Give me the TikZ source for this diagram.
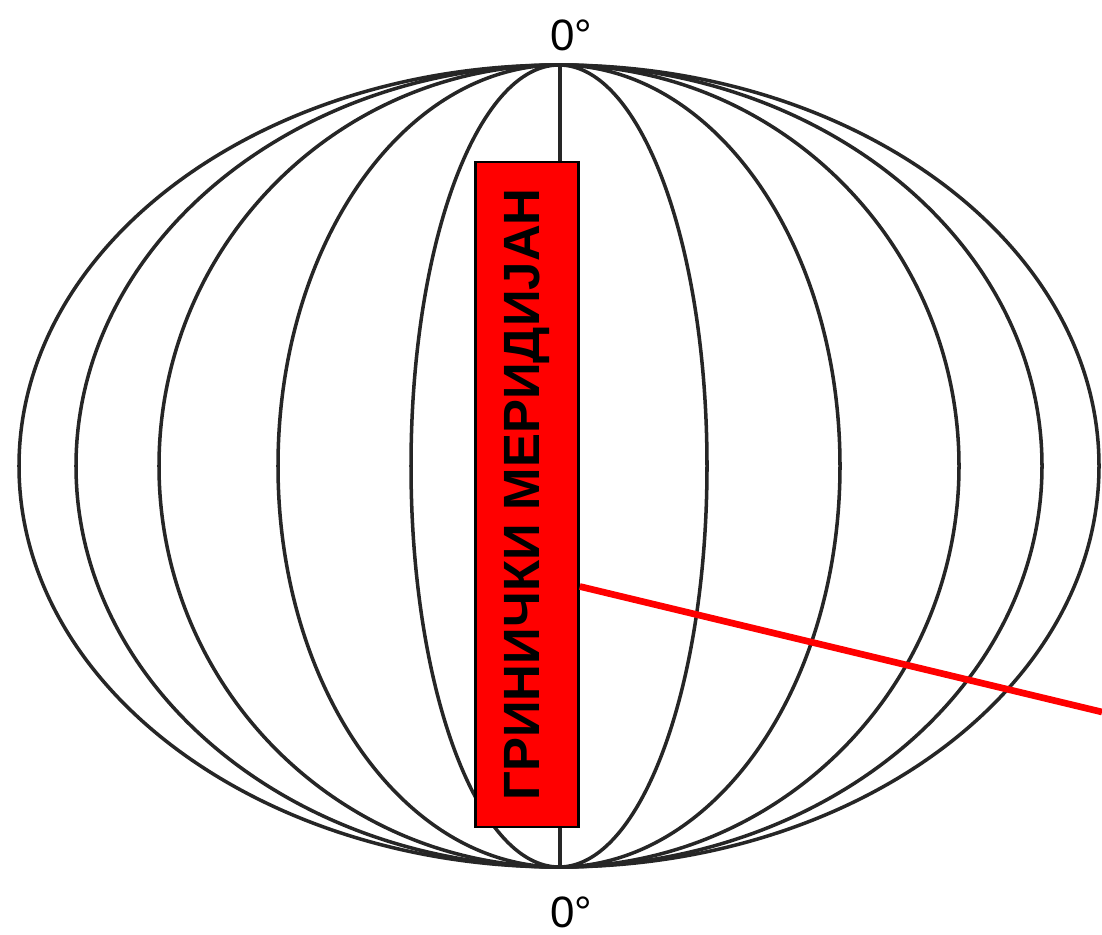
\documentclass[tikz,border=0pt]{standalone}
\usepackage{fontspec}
\setmainfont{Liberation Sans}
\usepackage{tikz}
\usetikzlibrary{positioning, calc}

\begin{document}
\begin{tikzpicture}[
        x=0.02cm, y=-0.02cm,
        meridian/.style = {draw=black!85, line width=2pt},
        label/.style = {rectangle, draw=black, line width=1.5pt, fill=red, text=black, minimum width=2.06cm, minimum height=13.3cm, inner sep=0pt, font=\fontsize{29}{33}\selectfont\bfseries},
        deg/.style = {inner sep=0pt, font=\fontsize{25}{29}\selectfont},
        pointer/.style = {draw=red, line width=3.8pt}
    ]

    \useasboundingbox (0,0) rectangle (1102,935);

    % --- MERIDIJANI ---
    \foreach \r in {148,281,400,483,540}
        \draw[meridian] (559,466) ellipse ({\r} and 401);
    \draw[meridian] (560,65) -- (560,867);

    % --- OZNAKE ---
    \node[deg] (topdeg) at (571,35) {0°};
    \node[deg] (botdeg) at (571,912) {0°};

    \node[label] (grinic) at (527,494.5) {\rotatebox{90}{ГРИНИЧКИ МЕРИДИЈАН}};

    % --- LINIJA ---
    \coordinate (tip) at (1102,712);
    \draw[pointer] ([yshift=-1.84cm]grinic.east) -- (tip);

\end{tikzpicture}
\end{document}
